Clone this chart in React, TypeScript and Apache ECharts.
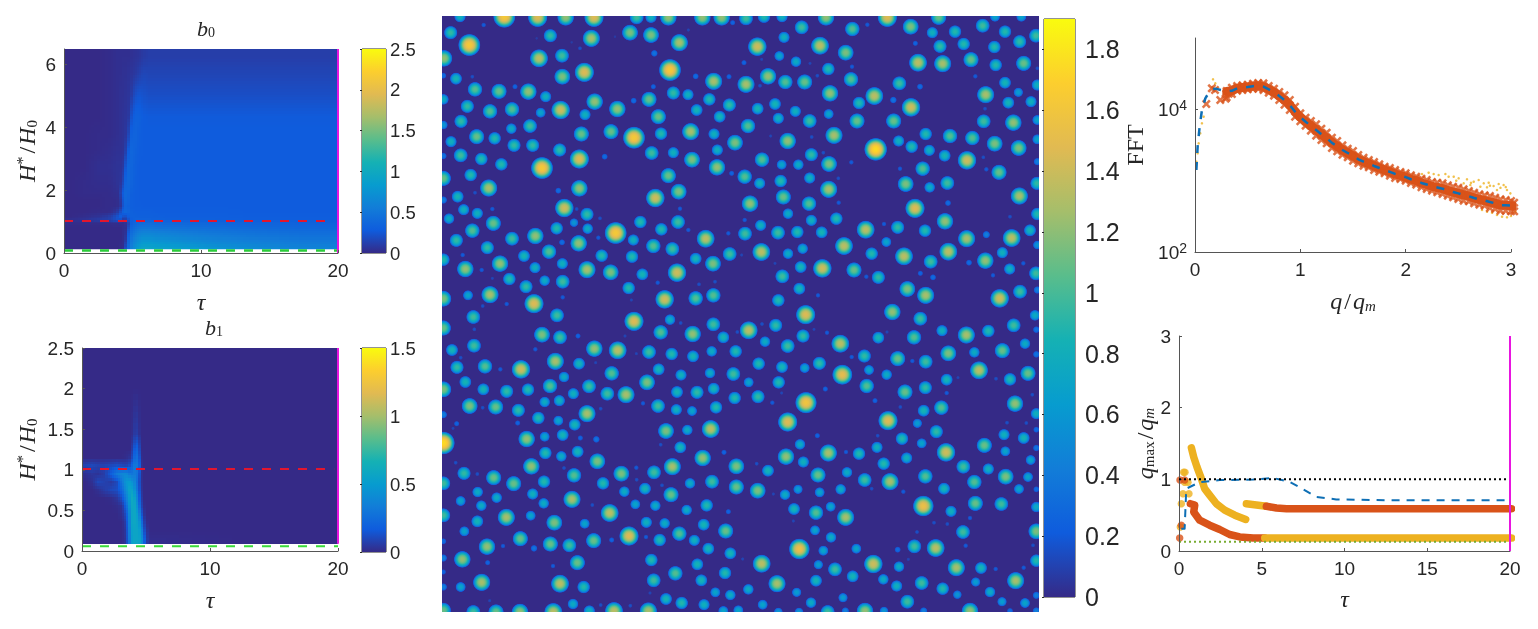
import React, { useEffect, useRef } from "react";
import * as echarts from "echarts";

// ---------- colour map ----------
const parulaStops = ["#352A87", "#0F5CDD", "#127DD8", "#079CCF", "#15B1B4", "#59BD8C", "#A5BE6B", "#E1BA52", "#FCCE2E", "#F9FB0E"];

// ---------- b0 panel ----------
const b0TauEdges = [0, 1, 2, 3, 3.4, 3.8, 4, 4.2, 4.4, 4.6, 4.8, 5, 5.3, 5.6, 6, 6.5, 7, 8, 10, 12, 15, 20];
const b0HEdges = [0.09, 0.2, 0.35, 0.5, 0.7, 0.9, 1, 1.1, 1.2, 1.4, 1.6, 1.8, 2, 2.5, 3, 3.5, 4, 4.7, 5.4, 6, 6.5];
const b0Rows = [
  [0, 0, 0, 0, 0, 0, .01, .03, .2, .42, .6, .75, .88, .95, .95, .92, .9, .85, .78, .7, .62],
  [0, 0, 0, 0, 0, 0, .01, .02, .14, .38, .55, .68, .78, .85, .85, .82, .8, .75, .68, .62, .55],
  [0, 0, 0, 0, 0, 0, 0, .02, .08, .34, .5, .6, .7, .75, .75, .72, .7, .65, .6, .55, .5],
  [0, 0, 0, 0, 0, 0, 0, .02, .05, .28, .44, .52, .6, .64, .64, .62, .6, .56, .52, .48, .44],
  [0, 0, 0, 0, 0, 0, 0, .02, .03, .2, .36, .42, .48, .5, .5, .48, .47, .45, .43, .4, .37],
  [.01, .01, .01, .01, .02, .02, .02, .02, .04, .14, .3, .36, .4, .4, .4, .39, .38, .37, .36, .34, .33],
  [.03, .05, .1, .12, .17, .22, .2, .08, .1, .22, .3, .33, .33, .33, .33, .32, .32, .31, .31, .3, .3],
  [0, .02, .05, .1, .16, .24, .3, .22, .2, .28, .32, .32, .31, .31, .31, .31, .3, .3, .3, .29, .29],
  [0, 0, .01, .01, .03, .1, .2, .32, .36, .34, .32, .3, .3, .3, .3, .29, .29, .29, .29, .28, .28],
  [0, 0, 0, .01, .01, .02, .06, .22, .34, .32, .3, .29, .29, .28, .28, .28, .28, .28, .28, .28, .28],
  [0, 0, 0, .01, .01, .02, .08, .24, .36, .34, .3, .29, .28, .28, .28, .28, .28, .28, .28, .28, .28],
  [0, .01, .01, .01, .02, .03, .12, .28, .37, .35, .31, .29, .28, .28, .28, .28, .28, .28, .28, .28, .28],
  [0, .01, .02, .02, .03, .05, .06, .16, .33, .37, .34, .3, .28, .28, .28, .28, .28, .28, .28, .28, .28],
  [0, 0, .03, .03, .04, .05, .05, .08, .24, .36, .35, .31, .28, .28, .28, .28, .28, .28, .28, .28, .28],
  [0, 0, .01, .02, .03, .04, .04, .05, .12, .28, .36, .33, .29, .28, .28, .28, .28, .28, .28, .28, .28],
  [0, 0, .01, .01, .02, .03, .04, .05, .07, .16, .32, .35, .3, .28, .28, .28, .28, .28, .28, .28, .28],
  [0, 0, 0, .01, .02, .03, .04, .05, .06, .08, .22, .32, .32, .28, .27, .27, .27, .27, .27, .27, .27],
  [0, 0, 0, .01, .02, .03, .04, .04, .05, .06, .1, .2, .24, .22, .2, .2, .2, .2, .2, .2, .2],
  [0, 0, 0, .01, .02, .03, .03, .04, .04, .05, .06, .08, .12, .16, .15, .15, .15, .15, .15, .15, .15],
  [0, 0, 0, .01, .02, .03, .03, .03, .03, .03, .04, .05, .06, .09, .11, .11, .11, .11, .11, .11, .11],
];

// ---------- b1 panel ----------
const b1TauEdges = [0, .5, 1, 1.5, 2, 2.5, 3, 3.3, 3.6, 3.8, 4, 4.2, 4.4, 4.6, 4.8, 5, 5.2, 5.5, 20];
const b1HEdges = [.09, .2, .3, .4, .5, .6, .7, .8, .9, 1, 1.1, 1.2, 1.3, 1.4, 1.5, 2.5];
const b1Rows = [
  [0, 0, 0, 0, 0, 0, 0, .04, .32, .52, .56, .56, .55, .42, .18, .05, .01, 0],
  [0, 0, 0, 0, 0, 0, 0, .05, .34, .54, .56, .56, .52, .34, .12, .03, 0, 0],
  [0, 0, 0, 0, 0, 0, 0, .07, .36, .56, .58, .55, .46, .24, .07, .01, 0, 0],
  [0, 0, 0, 0, 0, 0, .02, .12, .38, .56, .58, .52, .36, .14, .03, 0, 0, 0],
  [0, 0, 0, 0, 0, .01, .03, .2, .44, .58, .58, .45, .25, .08, .01, 0, 0, 0],
  [0, 0, 0, 0, .01, .04, .12, .32, .5, .6, .55, .38, .18, .05, 0, 0, 0, 0],
  [0, 0, .02, .06, .1, .12, .22, .42, .55, .55, .45, .3, .14, .03, 0, 0, 0, 0],
  [0, .02, .1, .08, .05, .1, .3, .48, .5, .45, .38, .26, .12, .02, 0, 0, 0, 0],
  [.02, .04, .03, .06, .18, .32, .38, .4, .32, .3, .32, .28, .14, .02, 0, 0, 0, 0],
  [.08, .1, .08, .08, .1, .12, .1, .08, .12, .2, .3, .3, .18, .02, 0, 0, 0, 0],
  [0, 0, 0, 0, 0, 0, 0, .01, .03, .1, .22, .26, .14, .01, 0, 0, 0, 0],
  [0, 0, 0, 0, 0, 0, 0, 0, 0, .06, .16, .2, .1, 0, 0, 0, 0, 0],
  [0, 0, 0, 0, 0, 0, 0, 0, 0, .03, .1, .13, .06, 0, 0, 0, 0, 0],
  [0, 0, 0, 0, 0, 0, 0, 0, 0, .01, .05, .06, .02, 0, 0, 0, 0, 0],
  [0, 0, 0, 0, 0, 0, 0, 0, 0, 0, 0, 0, 0, 0, 0, 0, 0, 0],
];

// ---------- centre map: spots as [x, y, radius] read per quadrant ----------
const spotsTL = [[60,20,16],[193,20,32],[293,22,28],[377,22,24],[462,22,28],[590,22,20],[633,22,16],[685,22,24],[787,22,24],[845,22,24],[32,68,19],[131,45,6],[331,77,19],[454,85,25],[570,68,23],[633,75,23],[718,98,25],[878,38,7],[745,60,4],[88,105,32],[297,145,26],[366,137,20],[420,115,5],[643,130,9],[690,180,32],[525,80,3],[395,97,3],[290,85,3],[12,145,24],[433,187,28],[367,200,23],[821,214,25],[767,199,8],[867,200,7],[10,197,8],[48,206,17],[97,200,5],[105,238,21],[177,244,22],[225,230,7],[265,245,24],[317,260,16],[640,230,7],[700,249,19],[744,254,16],[808,268,18],[10,268,15],[82,289,19],[150,304,21],[216,298,21],[302,308,14],[362,300,27],[435,314,16],[464,275,24],[532,297,24],[581,272,8],[627,268,22],[770,300,17],[868,285,19],[655,320,22],[839,320,17],[10,345,12],[63,334,19],[214,356,15],[270,348,20],[424,372,22],[513,365,22],[582,383,32],[663,371,18],[752,365,25],[822,372,16],[885,398,23],[33,395,16],[110,380,22],[164,385,18],[222,406,19],[278,406,19],[359,420,19],[418,447,28],[635,429,20],[700,428,16],[756,449,23],[832,420,16],[10,438,9],[62,436,20],[124,447,18],[184,463,18],[306,474,32],[494,440,8],[831,472,24],[875,490,7],[10,505,22],[92,495,18],[146,534,25],[418,535,24],[685,497,22],[716,545,23],[10,570,10],[53,560,17],[105,548,5],[355,542,8],[646,564,27],[71,599,16],[112,610,16],[157,597,6],[373,594,27],[441,613,19],[27,626,15],[160,640,22],[410,597,5],[720,596,6],[97,662,21],[350,655,18],[402,638,12],[443,656,15],[527,669,32],[601,636,18],[664,658,18],[714,636,20],[480,625,5],[745,660,6],[49,691,19],[216,686,20],[286,678,24],[366,697,8],[416,700,24],[580,690,16],[797,686,26],[865,670,6],[475,683,6],[142,713,19],[327,725,21],[640,708,21],[697,717,20],[252,738,17],[485,737,18],[576,740,18],[869,732,20],[767,746,17],[68,735,6],[10,749,18],[180,761,24],[819,761,23],[76,777,24],[285,773,16],[367,761,16],[441,779,25],[512,787,23],[711,788,27],[125,780,6],[607,793,17],[208,807,18],[314,812,15],[368,815,20],[258,830,19],[566,834,18],[157,805,4],[653,818,6],[777,823,5],[825,815,5],[10,866,23],[84,856,14],[150,854,25],[282,881,28],[674,868,27],[767,865,21],[820,856,21],[368,862,6],[574,870,4],[128,888,5],[200,882,6]];
const spotsTR = [[18,25,20],[72,20,18],[126,20,16],[258,22,24],[442,22,28],[596,22,22],[765,20,14],[844,20,14],[185,52,20],[337,57,21],[382,44,6],[512,50,23],[577,68,16],[645,65,18],[728,47,20],[795,65,18],[888,77,20],[132,82,16],[52,110,27],[240,107,26],[526,100,7],[600,109,19],[671,102,18],[839,95,19],[763,111,18],[118,138,14],[317,128,23],[168,155,15],[12,158,7],[534,158,26],[608,161,25],[693,149,22],[851,160,22],[767,165,18],[65,148,4],[210,160,4],[265,177,18],[336,170,6],[892,175,5],[84,199,24],[18,223,25],[136,216,21],[194,216,22],[333,208,21],[478,220,20],[706,199,6],[795,218,17],[60,227,5],[232,197,5],[892,225,16],[270,250,24],[540,230,8],[403,258,26],[460,270,9],[737,254,25],[835,247,13],[105,282,17],[357,279,18],[805,278,17],[873,275,16],[53,296,17],[166,304,16],[513,292,27],[115,325,16],[266,312,14],[209,333,20],[351,333,22],[461,333,22],[731,334,20],[820,338,24],[892,330,14],[735,296,5],[24,348,21],[282,376,25],[557,372,18],[630,378,21],[697,384,21],[764,401,23],[892,388,14],[143,393,24],[476,393,16],[836,414,23],[407,418,33],[515,410,18],[568,421,16],[614,437,17],[215,381,5],[92,378,4],[214,434,19],[66,449,21],[267,462,23],[681,451,27],[125,464,14],[175,464,15],[334,457,6],[892,455,10],[730,442,5],[250,428,5],[548,476,21],[777,487,22],[480,476,6],[739,478,6],[14,500,21],[59,520,16],[122,513,18],[209,504,16],[497,522,23],[622,519,20],[569,532,15],[891,520,19],[295,505,5],[266,538,25],[130,561,22],[30,581,24],[207,581,21],[838,558,25],[525,595,28],[624,579,8],[296,578,6],[892,612,18],[144,611,15],[214,631,16],[289,626,18],[14,630,6],[615,634,24],[810,620,5],[62,646,16],[377,659,26],[432,642,6],[473,652,19],[555,662,18],[15,671,20],[114,668,20],[172,666,18],[245,667,17],[739,674,10],[870,661,17],[680,686,25],[815,684,26],[439,696,14],[312,708,26],[188,716,15],[892,705,12],[64,726,26],[144,731,15],[395,731,18],[492,739,26],[625,725,26],[787,728,16],[572,755,20],[736,752,24],[687,758,8],[5,735,4],[182,771,17],[247,775,27],[342,780,22],[127,799,20],[415,802,19],[379,800,6],[809,777,16],[888,790,20],[541,790,7],[579,802,8],[759,796,6],[105,760,4],[850,760,6],[178,836,17],[502,837,23],[557,856,25],[840,845,20],[779,865,27],[892,840,10],[115,871,18],[234,856,6]];
const spotsBL = [[100,15,20],[351,10,20],[582,28,28],[690,23,15],[820,37,20],[722,33,5],[103,52,5],[10,48,22],[306,68,23],[360,76,20],[414,72,7],[662,61,21],[758,66,24],[850,76,17],[555,72,4],[892,60,5],[36,114,17],[102,101,20],[286,112,6],[463,110,24],[533,115,26],[627,120,20],[695,126,18],[759,133,17],[815,118,15],[887,118,18],[62,137,5],[346,148,25],[417,155,17],[51,166,19],[135,163,21],[243,172,27],[656,172,17],[467,152,4],[181,172,6],[589,125,4],[515,184,21],[372,195,15],[723,189,16],[810,183,15],[880,186,20],[76,210,17],[10,232,23],[621,211,23],[330,222,21],[447,223,20],[130,232,17],[200,238,19],[264,233,18],[400,245,16],[502,245,20],[558,248,25],[711,240,17],[771,241,19],[821,230,17],[884,258,18],[89,282,23],[167,285,22],[235,295,19],[314,270,15],[358,266,16],[654,282,20],[709,293,16],[756,297,14],[828,286,18],[10,308,10],[128,287,5],[609,274,6],[482,290,5],[295,318,18],[441,305,25],[355,326,14],[404,338,17],[50,335,7],[233,333,7],[39,349,4],[678,357,23],[742,354,15],[812,351,26],[260,381,24],[368,369,17],[314,374,14],[421,378,7],[469,382,9],[10,393,33],[721,406,17],[316,423,18],[364,433,15],[413,419,17],[788,438,24],[852,421,7],[662,398,5],[472,448,23],[274,463,24],[697,464,25],[889,463,23],[47,452,5],[72,484,19],[161,497,22],[402,490,21],[544,485,23],[642,481,20],[589,467,6],[372,468,5],[10,514,20],[221,515,22],[312,509,18],[489,514,18],[750,514,15],[816,509,20],[889,525,22],[112,486,5],[590,503,5],[113,540,15],[170,557,15],[278,546,16],[553,539,15],[615,530,17],[693,548,22],[666,520,5],[62,567,14],[311,574,15],[396,562,25],[124,581,15],[586,577,14],[646,581,15],[800,580,18],[740,594,15],[457,579,5],[10,610,20],[199,616,25],[272,611,14],[343,632,23],[509,603,26],[865,599,7],[112,628,17],[619,631,16],[674,634,15],[434,635,14],[791,638,17],[718,665,21],[857,657,22],[73,658,14],[241,680,22],[567,672,28],[331,696,22],[388,700,20],[461,686,22],[659,684,18],[763,685,16],[141,704,24],[515,684,7],[618,675,6],[10,688,8],[805,710,17],[189,702,6],[282,709,9],[871,724,17],[634,744,18],[67,742,24],[772,757,17],[412,752,22],[10,738,10],[143,752,7],[339,762,6],[855,783,18],[706,784,21],[10,780,7],[125,811,25],[360,815,26],[641,805,20],[784,805,17],[431,825,18],[62,825,14],[10,825,10],[826,841,14],[871,849,15],[678,861,17],[725,873,18],[792,878,16],[399,876,15],[149,866,4],[630,843,4],[10,895,22],[100,900,20],[168,900,22],[240,900,24],[340,900,26],[448,897,16],[522,897,26],[625,897,25],[850,897,14],[895,895,14],[482,879,5],[571,881,5]];
const spotsBR = [[197,8,28],[457,0,24],[541,20,20],[885,10,15],[26,55,26],[107,40,19],[66,36,5],[189,72,19],[415,77,17],[522,76,21],[606,56,16],[679,69,25],[745,57,18],[821,40,20],[889,53,9],[261,62,6],[222,52,4],[441,60,4],[75,89,15],[143,102,20],[301,95,26],[855,95,15],[625,124,23],[703,121,15],[787,116,22],[889,127,9],[373,132,19],[473,140,22],[557,149,20],[56,155,18],[126,165,17],[238,154,19],[335,135,6],[517,147,6],[194,168,14],[387,174,14],[307,188,29],[440,188,15],[717,175,26],[864,184,22],[810,202,18],[26,211,14],[116,211,18],[380,222,21],[620,203,17],[556,227,19],[768,200,5],[654,197,4],[54,254,19],[495,240,22],[256,231,7],[620,243,6],[877,248,5],[125,243,4],[198,272,31],[825,275,24],[405,266,7],[97,272,6],[551,296,17],[604,287,21],[481,285,5],[143,330,28],[444,326,28],[532,334,13],[889,305,16],[589,359,19],[889,353,8],[801,332,5],[859,333,5],[232,371,7],[486,380,18],[792,368,16],[851,378,17],[413,371,5],[180,397,15],[411,406,16],[545,394,14],[733,400,22],[889,408,9],[618,421,27],[265,423,25],[138,434,24],[357,425,18],[796,418,14],[318,420,6],[190,450,16],[500,438,16],[431,455,18],[872,444,14],[50,455,5],[670,464,20],[745,471,16],[84,476,17],[321,481,15],[234,489,22],[556,493,21],[797,494,23],[864,495,14],[703,510,21],[889,532,8],[374,504,20],[450,509,25],[53,536,23],[135,548,15],[174,532,13],[239,541,14],[302,532,15],[612,530,17],[837,531,14],[395,530,5],[490,539,6],[100,546,4],[550,582,30],[706,574,22],[784,576,20],[272,584,14],[162,591,17],[228,602,21],[317,616,25],[633,598,16],[889,585,15],[690,618,6],[582,632,5],[622,636,5],[160,627,4],[225,655,14],[669,660,20],[889,658,23],[273,676,15],[531,660,5],[178,711,30],[349,710,14],[523,703,20],[587,708,26],[250,716,14],[473,713,8],[677,701,6],[879,700,5],[65,755,26],[400,756,27],[235,758,13],[477,764,15],[649,767,25],[723,768,17],[889,746,18],[8,741,4],[505,742,4],[285,772,20],[338,793,17],[767,771,6],[851,767,6],[228,806,17],[430,802,15],[827,806,25],[707,810,13],[111,815,25],[25,832,15],[470,822,16],[545,813,20],[608,830,18],[750,840,15],[652,848,12],[170,841,13],[309,857,13],[213,872,15],[68,878,14],[502,869,20],[786,869,13],[855,873,14],[889,850,10],[115,900,12],[177,900,12],[263,900,20],[316,897,10],[375,897,24],[432,897,12],[551,897,10],[690,897,24],[810,897,8],[889,897,10]];
const spotRadii = [3, 5, 7, 9, 12, 15, 18, 20, 22, 25, 28, 32, 33];
const spotPeaks = [0.08, 0.16, 0.26, 0.36, 0.58, 0.76, 0.9, 0.98, 1.1, 1.27, 1.46, 1.63, 1.75];

// ---------- FFT panel ----------
const fftQ = [.3,.35,.4,.45,.5,.55,.6,.65,.7,.75,.8,.85,.9,.95,1,1.05,1.1,1.15,1.2,1.25,1.3,1.35,1.4,1.45,1.5,1.55,1.6,1.65,1.7,1.75,1.8,1.85,1.9,1.95,2,2.05,2.1,2.15,2.2,2.25,2.3,2.35,2.4,2.45,2.5,2.55,2.6,2.65,2.7,2.75,2.8,2.85,2.9,2.95,3,3.03];
const fftHighLog = [4.257,4.304,4.327,4.336,4.346,4.36,4.369,4.364,4.327,4.29,4.243,4.196,4.131,4.037,3.944,3.883,3.836,3.79,3.729,3.673,3.603,3.556,3.495,3.449,3.416,3.36,3.322,3.29,3.262,3.229,3.196,3.178,3.15,3.121,3.103,3.075,3.056,3.028,3.009,2.981,2.972,2.963,2.935,2.916,2.902,2.879,2.855,2.832,2.808,2.794,2.785,2.762,2.738,2.729,2.715,2.692];
const fftLowLog = [4.168,4.215,4.262,4.271,4.28,4.29,4.29,4.271,4.234,4.192,4.131,4.065,3.991,3.897,3.832,3.771,3.701,3.631,3.57,3.523,3.458,3.411,3.364,3.327,3.28,3.243,3.21,3.187,3.15,3.126,3.103,3.07,3.037,3.023,3,2.967,2.944,2.907,2.883,2.86,2.836,2.813,2.79,2.766,2.743,2.72,2.71,2.682,2.664,2.65,2.617,2.603,2.579,2.579,2.57,2.57];
const fftMeanLog = [4.25,4.26,4.295,4.305,4.313,4.325,4.33,4.318,4.28,4.24,4.187,4.13,4.06,3.967,3.888,3.827,3.768,3.71,3.65,3.598,3.53,3.484,3.43,3.388,3.348,3.3,3.266,3.238,3.206,3.178,3.15,3.124,3.094,3.072,3.05,3.02,3,2.968,2.946,2.92,2.904,2.888,2.862,2.84,2.822,2.8,2.782,2.757,2.736,2.722,2.7,2.682,2.658,2.654,2.65,2.645];
const fftRiseQ = [.013,.025,.044,.066,.098,.146,.193,.25];
const fftRiseLog = [3.15,3.477,3.757,3.99,4.154,4.27,4.29,4.27];
const fftEarlyCrosses = [[.107,4.075],[.16,4.294],[.19,4.27],[.24,4.13],[.29,4.15],[.32,4.22]];
const fftYellowDots = [[2.155,3.093],[2.218,3.112],[2.266,3.093],[2.313,3.079],[2.377,3.093],[2.408,3.056],[2.456,3.056],[2.503,3.033],[2.582,3.019],[2.646,2.986],[2.693,3.009],[2.741,2.963],[2.788,2.972],[2.835,2.925],[2.883,2.953],[2.93,2.939],[2.962,2.869],[2.994,2.822],[2.709,2.916],[2.772,2.907],[2.867,2.869],[2.614,2.939],[2.551,2.963],[2.725,2.589],[2.772,2.565],[2.82,2.551],[2.867,2.519],[2.915,2.495],[2.962,2.486],[3,2.505],[3.041,2.565],[.013,3.266],[.025,3.383],[.035,3.523],[.05,3.664],[.066,3.804],[.082,3.897],[.171,4.421],[.193,4.364],[.209,4.294],[2.48,3.0],[2.62,2.97],[2.8,2.93],[2.9,2.9],[2.95,2.91]];

// ---------- q_max panel ----------
const qBlue = [[.14,.31],[.34,.31],[.44,.87],[1.25,.96],[2.46,.99],[4.48,.997],[5.69,1.02],[6.69,.964],[7.5,.862],[8.3,.755],[9.5,.72],[12.5,.708],[20,.708]];
const qYellowHigh = [[.75,1.44],[.89,1.31],[1.09,1.17],[1.35,1.01],[1.55,.87],[1.85,.78],[2.26,.66],[2.76,.57],[3.37,.5],[4.03,.44]];
const qYellowMid = [[4.07,.66],[5.28,.624]];
const qOrangeMid = [[5.28,.624],[5.89,.6],[6.5,.59],[20.1,.59]];
const qYellowLow = [[5.18,.18],[20.1,.18]];
const qOrangeLow = [[.69,.66],[.95,.64],[.89,.545],[1.25,.43],[1.85,.36],[2.46,.3],[3.06,.23],[3.67,.196],[4.48,.18],[5.18,.18]];
const qOrangeDots = [[.04,.18],[.14,.36],[.06,.99],[.34,.99]];
const qYellowDots = [[.08,.335],[.14,.66],[.24,.8],[.6,.8],[.28,1.1],[.36,1.1],[.54,.96],[.34,.96]];

// ---------- ticks / ranges ----------
const b0Max = 2.5, b1Max = 1.5, mapMax = 1.9;
const FONT = "'Liberation Sans', Arial, sans-serif";
const SERIF = "'Liberation Serif', 'DejaVu Serif', serif";
const INK = "#262626";
const AXIS = "#555555";

const hex = (s: string) => [parseInt(s.slice(1, 3), 16), parseInt(s.slice(3, 5), 16), parseInt(s.slice(5, 7), 16)];
const parula = (t: number) => {
  const c = Math.max(0, Math.min(1, t)) * (parulaStops.length - 1);
  const i = Math.min(parulaStops.length - 2, Math.floor(c));
  const f = c - i;
  const a = hex(parulaStops[i]), b = hex(parulaStops[i + 1]);
  return `rgb(${a.map((v, k) => Math.round(v + (b[k] - v) * f)).join(",")})`;
};
const peakOf = (r: number) => {
  for (let i = 1; i < spotRadii.length; i++) {
    if (r <= spotRadii[i]) {
      const f = (r - spotRadii[i - 1]) / (spotRadii[i] - spotRadii[i - 1]);
      return spotPeaks[i - 1] + (spotPeaks[i] - spotPeaks[i - 1]) * Math.max(0, f);
    }
  }
  return spotPeaks[spotPeaks.length - 1];
};
const gradientCache: Record<number, any> = {};
const spotGradient = (r: number) => {
  if (gradientCache[r]) return gradientCache[r];
  const peak = peakOf(r);
  const ts = [0, .12, .25, .38, .5, .62, .72, .8, .86, .92, .96, 1];
  const stops = ts.map((t) => ({ offset: t, color: parula((peak * (1 - Math.pow(t, 2.5))) / mapMax) }));
  gradientCache[r] = new echarts.graphic.RadialGradient(0.5, 0.5, 0.5, stops);
  return gradientCache[r];
};
const shifted = (list: number[][], dx: number, dy: number) => list.map(([x, y, r]) => [x + dx, y + dy, r]);

const cells = (taus: number[], hs: number[], rows: number[][]) => {
  const out: number[][] = [];
  rows.forEach((row, j) => row.forEach((v, i) => out.push([taus[i], taus[i + 1], hs[j], hs[j + 1], v, i, j])));
  return out;
};
const mids = (e: number[]) => e.slice(0, -1).map((v, i) => (v + e[i + 1]) / 2);
const locate = (c: number[], v: number): [number, number] => {
  if (v <= c[0]) return [0, 0];
  if (v >= c[c.length - 1]) return [c.length - 1, 0];
  let i = 0;
  while (c[i + 1] < v) i++;
  return [i, (v - c[i]) / (c[i + 1] - c[i])];
};

// shading "interp": each table cell is drawn in small steps that blend towards its neighbours
const heatSeries = (idx: number, taus: number[], hs: number[], rows: number[][], max: number) => {
  const ct = mids(taus), ch = mids(hs);
  const at = (t: number, h: number) => {
    const [i, fi] = locate(ct, t);
    const [j, fj] = locate(ch, h);
    const i1 = Math.min(i + 1, ct.length - 1), j1 = Math.min(j + 1, ch.length - 1);
    return (rows[j][i] * (1 - fi) + rows[j][i1] * fi) * (1 - fj) + (rows[j1][i] * (1 - fi) + rows[j1][i1] * fi) * fj;
  };
  return {
    type: "custom",
    xAxisIndex: idx,
    yAxisIndex: idx,
    z: 1,
    silent: true,
    encode: { x: [0, 1], y: [2, 3] },
    data: cells(taus, hs, rows),
    renderItem: (_: any, api: any) => {
      const t0 = api.value(0), t1 = api.value(1), h0 = api.value(2), h1 = api.value(3);
      const p0 = api.coord([t0, h1]);
      const p1 = api.coord([t1, h0]);
      const w = p1[0] - p0[0], hgt = p1[1] - p0[1];
      const i = api.value(5), j = api.value(6);
      let same = true;
      const v = rows[j][i];
      for (let dj = -1; dj <= 1; dj++) for (let di = -1; di <= 1; di++) {
        const r = rows[j + dj];
        if (r && r[i + di] !== undefined && Math.abs(r[i + di] - v) > 0.003) same = false;
      }
      const nx = same ? 1 : Math.max(1, Math.min(14, Math.ceil(w / 3)));
      const ny = same ? 1 : Math.max(1, Math.min(14, Math.ceil(hgt / 3)));
      const children: any[] = [];
      for (let a = 0; a < nx; a++) for (let b = 0; b < ny; b++) {
        const tm = t0 + ((a + 0.5) / nx) * (t1 - t0);
        const hm = h1 + ((b + 0.5) / ny) * (h0 - h1);
        const fill = parula(at(tm, hm) / max);
        const x0 = Math.round(p0[0] + (a * w) / nx), x1 = Math.round(p0[0] + ((a + 1) * w) / nx);
        const y0 = Math.round(p0[1] + (b * hgt) / ny), y1 = Math.round(p0[1] + ((b + 1) * hgt) / ny);
        if (x1 > x0 && y1 > y0) {
          children.push({ type: "rect", shape: { x: x0, y: y0, width: x1 - x0, height: y1 - y0 }, style: { fill } });
        }
      }
      return { type: "group", children };
    },
  };
};

const colorbarSeries = (idx: number, max: number) => ({
  type: "custom",
  xAxisIndex: idx,
  yAxisIndex: idx,
  z: 1,
  silent: true,
  data: [[0, 0, 1, max]],
  encode: { x: [0, 2], y: [1, 3] },
  renderItem: (_: any, api: any) => {
    const p0 = api.coord([api.value(0), api.value(3)]);
    const p1 = api.coord([api.value(2), api.value(1)]);
    return {
      type: "rect",
      shape: { x: p0[0], y: p0[1], width: p1[0] - p0[0], height: p1[1] - p0[1] },
      style: {
        fill: new echarts.graphic.LinearGradient(0, 1, 0, 0, parulaStops.map((c, i) => ({ offset: i / (parulaStops.length - 1), color: c }))),
      },
    };
  },
});

const line = (idx: number, data: number[][], color: string, width: number, type: any, z = 4, cap = "butt") => ({
  type: "line",
  xAxisIndex: idx,
  yAxisIndex: idx,
  data,
  symbol: "none",
  silent: true,
  clip: false,
  z,
  lineStyle: { color, width, type, cap, join: "round" },
});

const dots = (idx: number, data: number[][], color: string, size: number, z = 4) => ({
  type: "scatter",
  xAxisIndex: idx,
  yAxisIndex: idx,
  data,
  symbol: "circle",
  symbolSize: size,
  clip: false,
  silent: true,
  z,
  itemStyle: { color },
});

const mathRich = {
  i: { fontFamily: SERIF, fontStyle: "italic", fontSize: 24, color: INK, fontWeight: "normal" },
  n: { fontFamily: SERIF, fontSize: 24, color: INK, fontWeight: "normal", padding: [0, 2, 0, 2] },
  sup: { fontFamily: SERIF, fontSize: 16, color: INK, fontWeight: "normal", padding: [0, 1, 10, 0] },
  sub: { fontFamily: SERIF, fontStyle: "italic", fontSize: 15, color: INK, fontWeight: "normal", padding: [9, 0, 0, 0] },
  subn: { fontFamily: SERIF, fontSize: 15, color: INK, fontWeight: "normal", padding: [9, 0, 0, 0] },
};

const xAx = (gridIndex: number, extra: any) => ({
  type: "value",
  gridIndex,
  z: 6,
  splitLine: { show: false },
  axisLine: { show: true, onZero: false, lineStyle: { color: AXIS, width: 1 } },
  axisTick: { show: true, inside: true, length: 3, lineStyle: { color: AXIS } },
  axisLabel: { fontFamily: FONT, fontSize: 19, color: INK, margin: 8 },
  nameLocation: "middle",
  nameTextStyle: { rich: mathRich },
  ...extra,
});
const yAx = (gridIndex: number, extra: any) => xAx(gridIndex, { axisLabel: { fontFamily: FONT, fontSize: 19, color: INK, margin: 8, showMaxLabel: extra.hideMax ? false : undefined }, ...extra });

const cbAxes = (gridIndex: number, max: number, interval: number, fontSize: number, margin: number) => ({
  x: { type: "value", gridIndex, min: 0, max: 1, show: false },
  y: {
    type: "value",
    gridIndex,
    min: 0,
    max,
    interval,
    position: "right",
    z: 6,
    splitLine: { show: false },
    axisLine: { show: false },
    axisTick: { show: true, inside: true, length: 2, lineStyle: { color: INK } },
    axisLabel: { fontFamily: FONT, fontSize, color: INK, margin, showMaxLabel: max % interval === 0 ? true : false },
  },
});

export default function App() {
  const ref = useRef<HTMLDivElement>(null);
  useEffect(() => {
    document.body.style.margin = "0";
    const chart = echarts.init(ref.current!, null, { renderer: "svg" });
    const cb0 = cbAxes(3, b0Max, 0.5, 18.5, 4);
    const cb1 = cbAxes(4, b1Max, 0.5, 18.5, 4);
    const cbm = cbAxes(5, mapMax, 0.2, 25, 10);
    const XCROSS = "path://M2 0L5 3L8 0L10 2L7 5L10 8L8 10L5 7L2 10L0 8L3 5L0 2Z";
    const crossPts = [
      ...fftQ.map((q, i) => [q, 10 ** fftHighLog[i]]),
      ...fftQ.map((q, i) => [q, 10 ** fftLowLog[i]]),
      ...fftEarlyCrosses.map(([q, l]) => [q, 10 ** l]),
    ];
    const titleRich = { ...mathRich, i: { ...mathRich.i, fontSize: 22 }, subn: { ...mathRich.subn, fontSize: 14, padding: [8, 0, 0, 0] } };
    const fftMeanLine = fftQ.map((q, i) => [q, 10 ** fftMeanLog[i]]);
    chart.setOption({
      animation: false,
      backgroundColor: "#ffffff",
      title: [
        { text: "{i|b}{subn|0}", left: 201, top: 12, textAlign: "center", textStyle: { fontWeight: "normal", rich: titleRich } },
        { text: "{i|b}{subn|1}", left: 209, top: 311, textAlign: "center", textStyle: { fontWeight: "normal", rich: titleRich } },
      ],
      grid: [
        { left: 64, top: 49, width: 274, height: 204 },
        { left: 82, top: 348, width: 256, height: 203 },
        { left: 442, top: 16, width: 597, height: 596, show: true, backgroundColor: "#352A87", borderWidth: 0 },
        { left: 362, top: 49, width: 24, height: 204, show: true, borderColor: INK, borderWidth: 1 },
        { left: 362, top: 348, width: 24, height: 204, show: true, borderColor: INK, borderWidth: 1 },
        { left: 1044, top: 19, width: 31, height: 578, show: true, borderColor: INK, borderWidth: 1 },
        { left: 1195, top: 38, width: 316, height: 214 },
        { left: 1179, top: 336, width: 331, height: 215 },
      ],
      xAxis: [
        xAx(0, { min: 0, max: 20, interval: 10, name: "{i|τ}", nameGap: 37 }),
        xAx(1, { min: 0, max: 20, interval: 10, name: "{i|τ}", nameGap: 37 }),
        { type: "value", gridIndex: 2, min: 6, max: 1797, show: false },
        cb0.x,
        cb1.x,
        cbm.x,
        xAx(6, { min: 0, max: 3, interval: 1, name: "{i|q}{n|/}{i|q}{sub|m}", nameGap: 37 }),
        xAx(7, { min: 0, max: 20, interval: 5, name: "{i|τ}", nameGap: 36 }),
      ],
      yAxis: [
        yAx(0, { min: 0, max: 6.5, interval: 2, hideMax: true, name: "{i|H}{sup|*}{n|/}{i|H}{subn|0}", nameGap: 24 }),
        yAx(1, { min: 0, max: 2.5, interval: 0.5, name: "{i|H}{sup|*}{n|/}{i|H}{subn|0}", nameGap: 42 }),
        { type: "value", gridIndex: 2, min: 18, max: 1806, inverse: true, show: false },
        cb0.y,
        cb1.y,
        cbm.y,
        {
          ...xAx(6, {}),
          type: "log",
          logBase: 100,
          min: 100,
          max: 100000,
          name: "FFT",
          nameGap: 48,
          nameTextStyle: { fontFamily: SERIF, fontSize: 24, color: INK },
          axisLabel: {
            fontFamily: FONT,
            fontSize: 19,
            color: INK,
            margin: 8,
            showMaxLabel: false,
            formatter: (v: number) => `10{s|${Math.round(Math.log10(v))}}`,
            rich: { s: { fontFamily: FONT, fontSize: 14, color: INK, padding: [0, 0, 8, 0] } },
          },
        },
        yAx(7, { min: 0, max: 3, interval: 1, name: "{i|q}{subn|max}{n|/}{i|q}{sub|m}", nameGap: 19 }),
      ],
      series: [
        heatSeries(0, b0TauEdges, b0HEdges, b0Rows, b0Max),
        line(0, [[0, 1.02], [19.7, 1.02]], "#E2162E", 2, [9, 9]),
        line(0, [[0, 0.08], [20, 0.08]], "#FFFFFF", 2.5, "solid"),
        line(0, [[0, 0.08], [20, 0.08]], "#2BCB3A", 2.5, [9, 9], 5),
        line(0, [[20, 0], [20, 6.5]], "#E815E0", 2, "solid", 5),

        heatSeries(1, b1TauEdges, b1HEdges, b1Rows, b1Max),
        line(1, [[0, 1.01], [19.7, 1.01]], "#E2162E", 2, [9, 9]),
        line(1, [[0, 0.058], [20, 0.058]], "#3ADB3A", 2, [9, 9]),
        line(1, [[20, 0.09], [20, 2.5]], "#E815E0", 2, "solid", 5),

        {
          type: "custom",
          xAxisIndex: 2,
          yAxisIndex: 2,
          silent: true,
          clip: true,
          progressive: 0,
          encode: { x: 0, y: 1 },
          data: [
            ...shifted(spotsTL, 0, 0),
            ...shifted(spotsTR, 900, 0),
            ...shifted(spotsBL, 0, 906),
            ...shifted(spotsBR, 900, 906),
          ],
          renderItem: (_: any, api: any) => {
            const p = api.coord([api.value(0), api.value(1)]);
            const r = api.value(2);
            return {
              type: "circle",
              shape: { cx: p[0], cy: p[1], r: r / 3 + 0.6 },
              style: { fill: spotGradient(r) },
            };
          },
        },

        colorbarSeries(3, b0Max),
        colorbarSeries(4, b1Max),
        colorbarSeries(5, mapMax),

        dots(6, fftYellowDots.map(([q, l]) => [q, 10 ** l]), "#EDB120", 2.5, 2),
        line(6, fftMeanLine, "#D95319", 9, "solid", 3, "round"),
        {
          type: "scatter",
          xAxisIndex: 6,
          yAxisIndex: 6,
          data: crossPts,
          symbol: XCROSS,
          symbolSize: 9,
          clip: false,
          silent: true,
          progressive: 0,
          z: 3,
          itemStyle: { color: "#D95319" },
        },
        line(6, [...fftRiseQ.map((q, i) => [q, 10 ** fftRiseLog[i]]), ...fftMeanLine], "#0E6FB5", 2.5, [8, 9]),

        line(7, qYellowHigh, "#EDB120", 7.5, "solid", 3, "round"),
        line(7, qYellowMid, "#EDB120", 7.5, "solid", 3, "round"),
        line(7, qOrangeMid, "#D95319", 7.5, "solid", 4, "round"),
        line(7, qOrangeLow, "#D95319", 7.5, "solid", 3, "round"),
        line(7, qYellowLow, "#EDB120", 7.5, "solid", 4, "round"),
        dots(7, qYellowDots, "#EDB120", 7.5, 3),
        dots(7, qOrangeDots, "#D95319", 7.5, 3),
        line(7, qBlue, "#0E6FB5", 2, [8, 7], 5),
        line(7, [[0, 1], [20, 1]], "#000000", 2, [2, 3], 6),
        line(7, [[0, 0.13], [20, 0.13]], "#77AC30", 2, [2, 3], 5),
        line(7, [[20, 0], [20, 3]], "#E815E0", 2, "solid", 6),
      ],
    });
    return () => chart.dispose();
  }, []);
  return <div ref={ref} style={{ position: "absolute", left: 0, top: 0, width: 1538, height: 629, filter: "blur(0.4px)" }} />;
}
